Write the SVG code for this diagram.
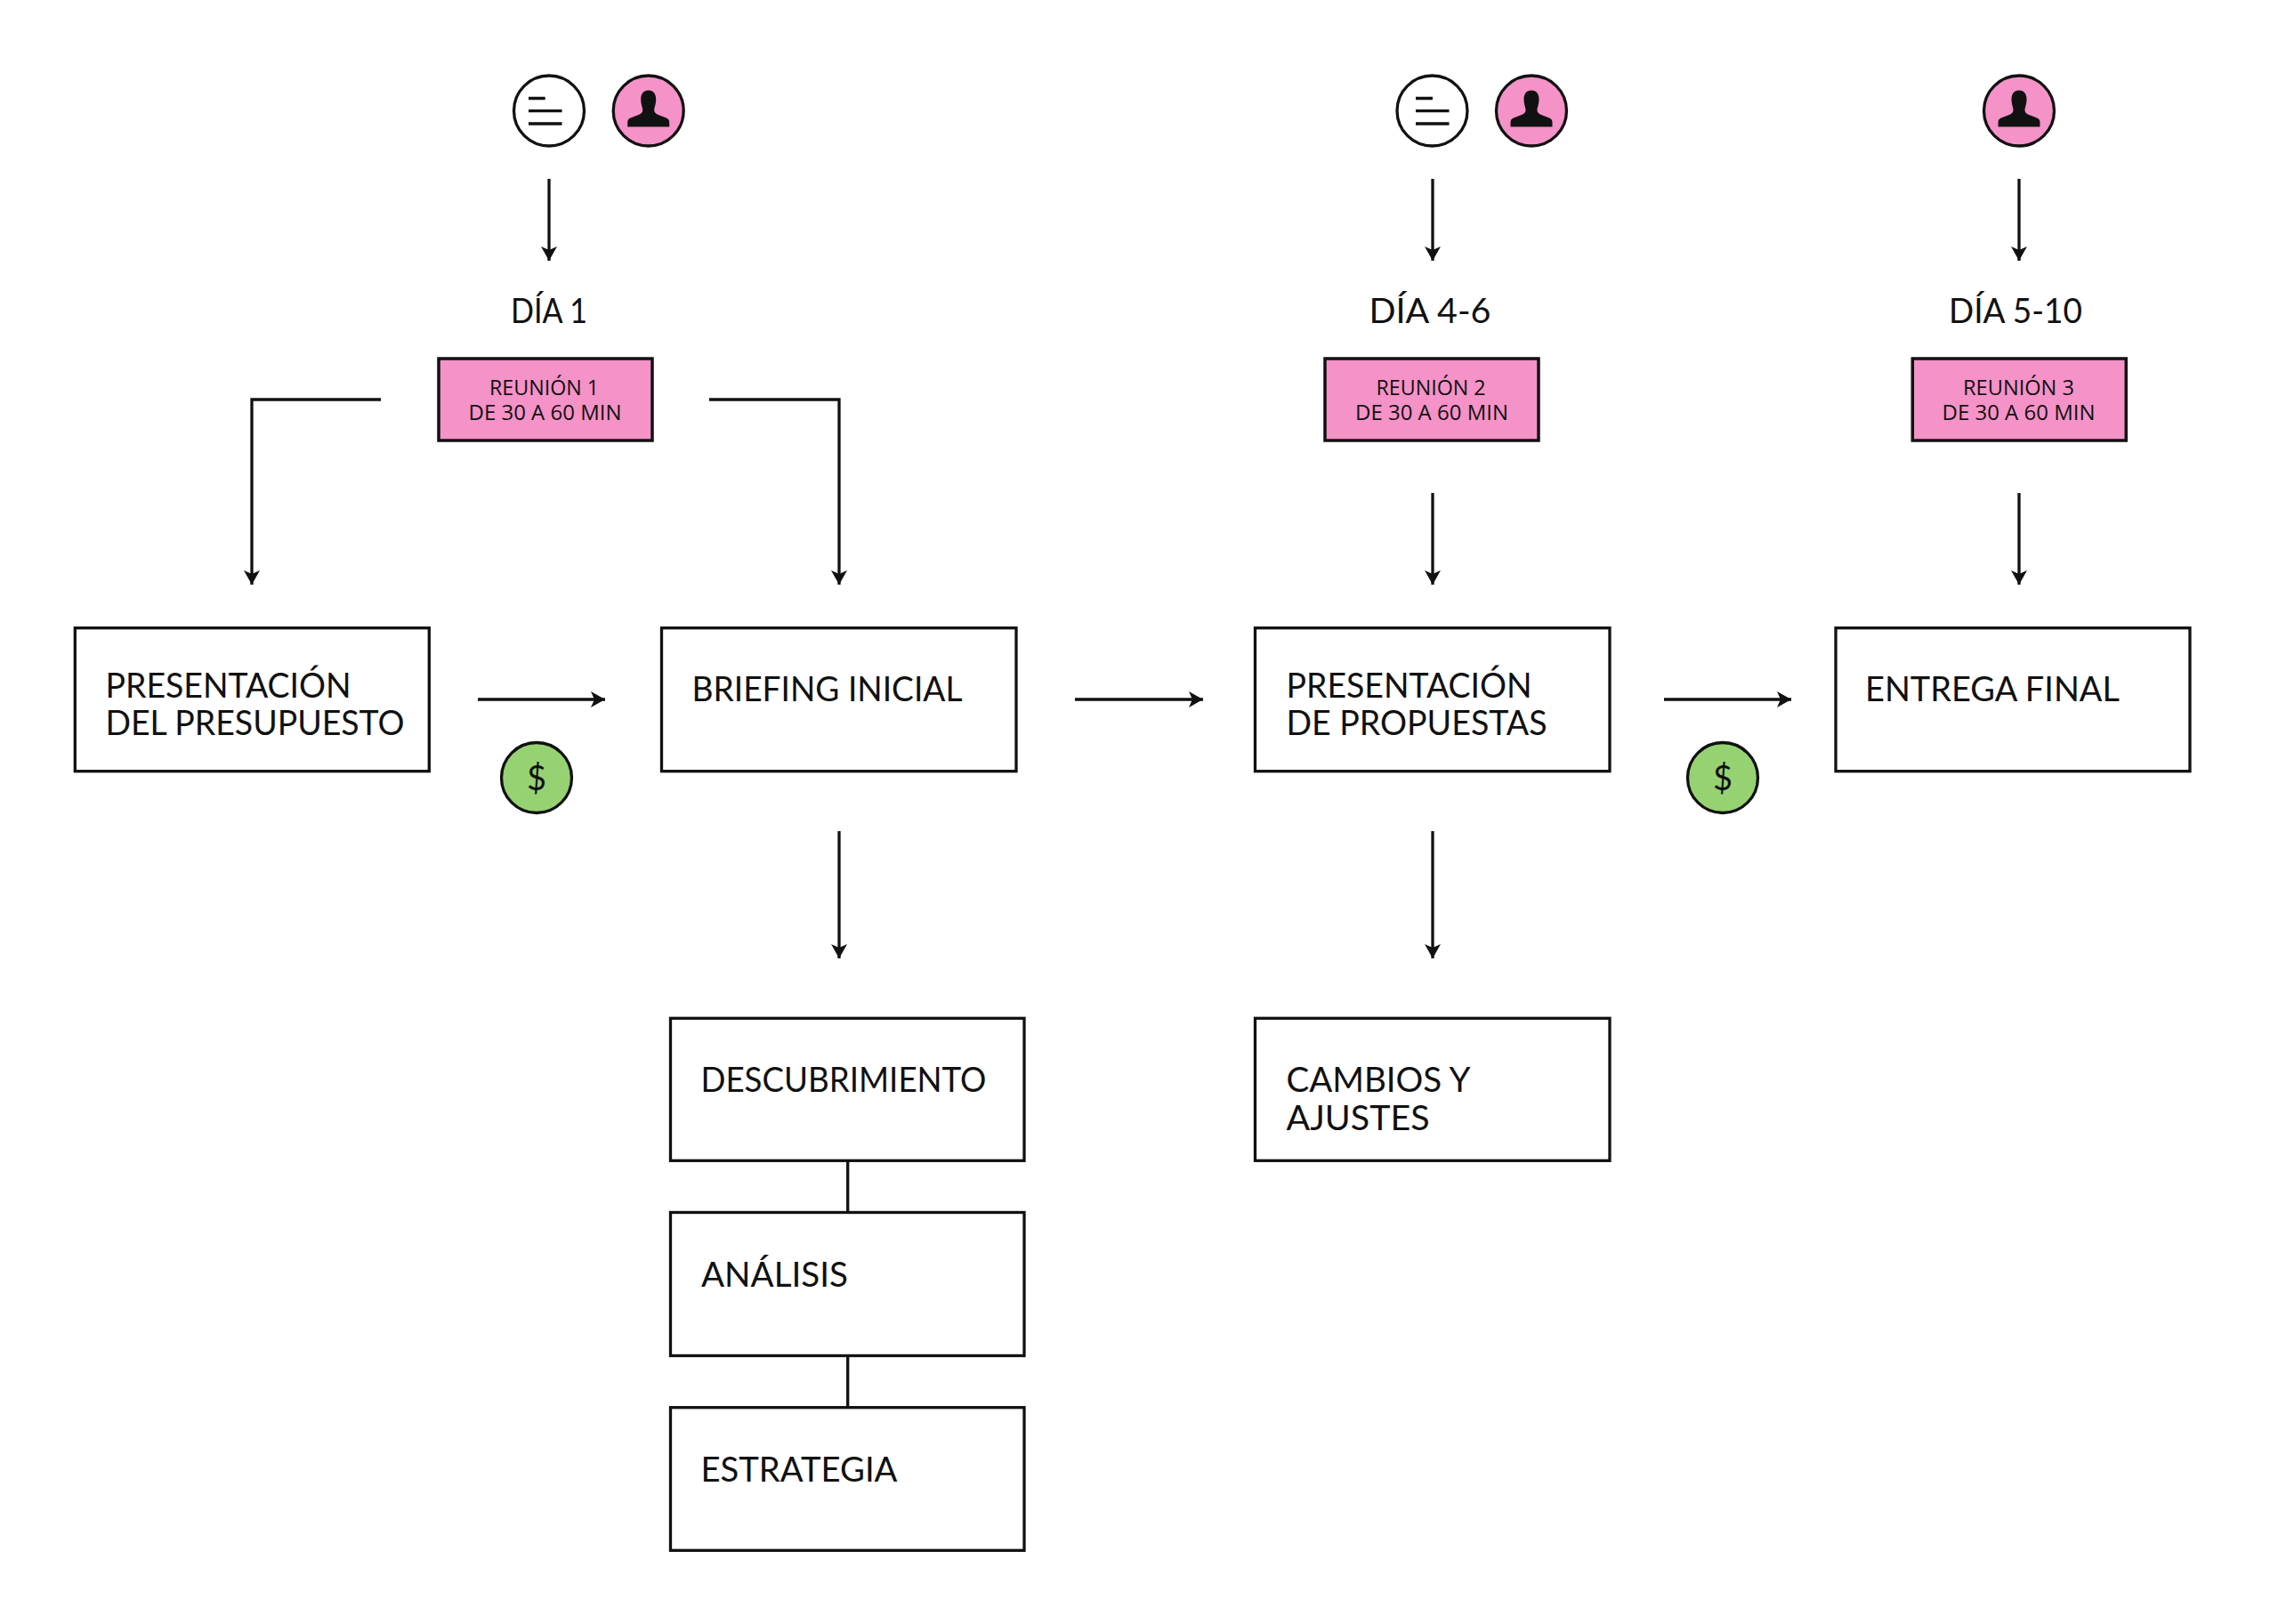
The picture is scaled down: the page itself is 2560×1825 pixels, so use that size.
<svg xmlns="http://www.w3.org/2000/svg" width="2560" height="1825" viewBox="0 0 2560 1825">
<style>
.box{fill:#fff;stroke:#111;stroke-width:3.3}
.pink{fill:#f592c8;stroke:#111;stroke-width:3.5}
.c{stroke:#111;stroke-width:3.3;fill:none}
.a{stroke:#111;stroke-width:3.3;fill:none;marker-end:url(#arrow)}
.t{font-family:"Lato","Liberation Sans",sans-serif;font-size:38.5px;fill:#111}
.s{font-family:"Open Sans","Liberation Sans",sans-serif;font-size:24px;fill:#111}
.m{font-family:"Lato","Liberation Sans",sans-serif;font-size:38px;fill:#111;text-anchor:middle}
.icon{stroke:#111;stroke-width:3.3}
.w{fill:#fff}.p{fill:#f592c8}.g{fill:#96d272}
.l{stroke:#111;stroke-width:3.3;fill:none}
</style>
<defs>
<marker id="arrow" markerUnits="userSpaceOnUse" markerWidth="18" markerHeight="18" refX="16" refY="9" orient="auto"><path d="M0 0L16 9L0 18L4 9Z" fill="#111"/></marker>
<g id="person"><circle class="icon p" r="39.5"/><path d="M0 -23C5.5 -23 8.5 -19 8.5 -13C8.5 -7 6.5 -4 6.5 -1C6.5 2 8 3 11 4.5L20 8C23 9 23.5 11 23.5 14V18H-23.5V14C-23.5 11 -23 9 -20 8L-11 4.5C-8 3 -6.5 2 -6.5 -1C-6.5 -4 -8.5 -7 -8.5 -13C-8.5 -19 -5.5 -23 0 -23Z" fill="#111"/></g>
<circle id="list" class="icon w" r="39.5"/>
<circle id="money" class="icon g" r="39.5"/>
</defs>
<g id="connectors">
<path class="a" d="M617 201V293"/>
<path class="a" d="M1610 201V293"/>
<path class="a" d="M2269 201V293"/>
<path class="a" d="M428 449H283V657"/>
<path class="a" d="M797 449H943V657"/>
<path class="a" d="M1610 554V657"/>
<path class="a" d="M2269 554V657"/>
<path class="a" d="M537 786H680"/>
<path class="a" d="M1208 786H1352"/>
<path class="a" d="M1870 786H2013"/>
<path class="a" d="M943 934V1077"/>
<path class="a" d="M1610 934V1077"/>
<path class="c" d="M952.7 1304V1363"/>
<path class="c" d="M952.7 1523V1582"/>
</g>
<g id="icon-list-1"><use href="#list" x="617" y="124.5"/><path class="l" d="M594 110.5H612.7M594 124.7H631.5M594 139H631.5"/></g>
<g id="icon-person-1"><use href="#person" x="728.7" y="124.5"/></g>
<g id="icon-list-2"><use href="#list" x="1609.5" y="124.5"/><path class="l" d="M1591 110.5H1610M1591 124.7H1628.5M1591 139H1628.5"/></g>
<g id="icon-person-2"><use href="#person" x="1721" y="124.5"/></g>
<g id="icon-person-3"><use href="#person" x="2269" y="124.5"/></g>
<g id="label-dia-1"><text class="t" x="574" y="363" textLength="86" lengthAdjust="spacingAndGlyphs">DÍA 1</text></g>
<g id="label-dia-2"><text class="t" x="1538.5" y="363" textLength="137" lengthAdjust="spacingAndGlyphs">DÍA 4-6</text></g>
<g id="label-dia-3"><text class="t" x="2190" y="363" textLength="150" lengthAdjust="spacingAndGlyphs">DÍA 5-10</text></g>
<g id="reunion-1"><rect class="pink" x="493" y="403" width="240" height="92"/><text class="s" x="550" y="444" textLength="123" lengthAdjust="spacingAndGlyphs">REUNIÓN 1</text><text class="s" x="526.5" y="472.3" textLength="172" lengthAdjust="spacingAndGlyphs">DE 30 A 60 MIN</text></g>
<g id="reunion-2"><rect class="pink" x="1489" y="403" width="240" height="92"/><text class="s" x="1546.5" y="444" textLength="123" lengthAdjust="spacingAndGlyphs">REUNIÓN 2</text><text class="s" x="1523" y="472.3" textLength="172" lengthAdjust="spacingAndGlyphs">DE 30 A 60 MIN</text></g>
<g id="reunion-3"><rect class="pink" x="2149.3" y="403" width="240" height="92"/><text class="s" x="2206" y="444" textLength="125" lengthAdjust="spacingAndGlyphs">REUNIÓN 3</text><text class="s" x="2182.5" y="472.3" textLength="172" lengthAdjust="spacingAndGlyphs">DE 30 A 60 MIN</text></g>
<g id="presupuesto"><rect class="box" x="84.3" y="705.7" width="398" height="161"/><text class="t" x="118.5" y="783.5" textLength="276" lengthAdjust="spacingAndGlyphs">PRESENTACIÓN</text><text class="t" x="118.5" y="826" textLength="336" lengthAdjust="spacingAndGlyphs">DEL PRESUPUESTO</text></g>
<g id="briefing"><rect class="box" x="743.5" y="705.7" width="398.5" height="161"/><text class="t" x="777.5" y="788" textLength="304" lengthAdjust="spacingAndGlyphs">BRIEFING INICIAL</text></g>
<g id="propuestas"><rect class="box" x="1410.5" y="705.7" width="398.5" height="161"/><text class="t" x="1445.5" y="783.5" textLength="276" lengthAdjust="spacingAndGlyphs">PRESENTACIÓN</text><text class="t" x="1445.5" y="826" textLength="293" lengthAdjust="spacingAndGlyphs">DE PROPUESTAS</text></g>
<g id="entrega"><rect class="box" x="2063" y="705.7" width="398" height="161"/><text class="t" x="2096" y="788" textLength="286" lengthAdjust="spacingAndGlyphs">ENTREGA FINAL</text></g>
<g id="descubrimiento"><rect class="box" x="753.5" y="1144.3" width="397.5" height="160"/><text class="t" x="787.5" y="1227" textLength="321" lengthAdjust="spacingAndGlyphs">DESCUBRIMIENTO</text></g>
<g id="analisis"><rect class="box" x="753.5" y="1362.5" width="397.5" height="161"/><text class="t" x="788" y="1446" textLength="165" lengthAdjust="spacingAndGlyphs">ANÁLISIS</text></g>
<g id="estrategia"><rect class="box" x="753.5" y="1581.7" width="397.5" height="160.6"/><text class="t" x="787.5" y="1665" textLength="221" lengthAdjust="spacingAndGlyphs">ESTRATEGIA</text></g>
<g id="cambios"><rect class="box" x="1410.5" y="1144.3" width="398.5" height="160"/><text class="t" x="1445.5" y="1227" textLength="207" lengthAdjust="spacingAndGlyphs">CAMBIOS Y</text><text class="t" x="1445.5" y="1269.5" textLength="161" lengthAdjust="spacingAndGlyphs">AJUSTES</text></g>
<g id="pago-1"><use href="#money" x="603" y="874"/><text class="m" x="603" y="888">$</text></g>
<g id="pago-2"><use href="#money" x="1936" y="874"/><text class="m" x="1936" y="888">$</text></g>
</svg>
